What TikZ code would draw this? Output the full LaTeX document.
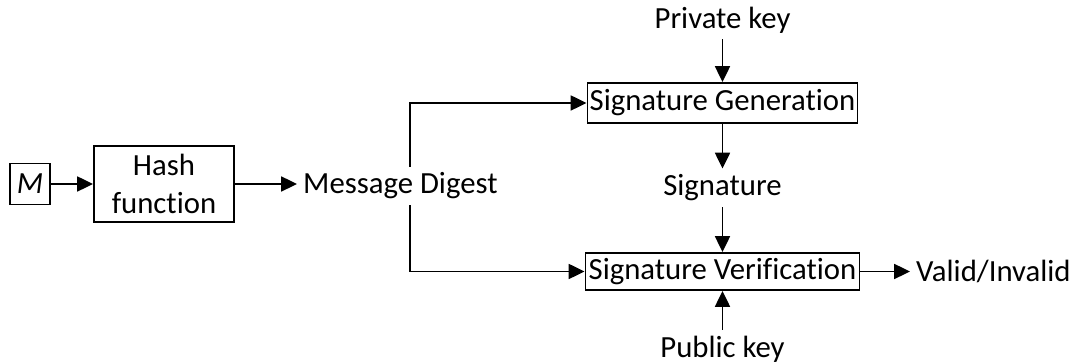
\documentclass[tikz,border=0pt]{standalone}
\usepackage{fontspec}
\setmainfont{Carlito}[Ligatures=NoCommon]
\usetikzlibrary{positioning, arrows.meta, calc}

\begin{document}
\begin{tikzpicture}[blk/.style={draw, line width=1.1pt, inner sep=0pt, align=center, font=\fontsize{17.5}{21.5}\selectfont},txt/.style={font=\fontsize{17.5}{21}\selectfont},flow/.style={line width=1.1pt, -{Triangle[length=9pt, width=8.5pt]}}]
\useasboundingbox (0,0) rectangle (21.5,7.28);
\node[blk, minimum width=0.8cm, minimum height=0.82cm] (msg) at (0.6,3.6) {\textit{M}};
\node[blk, minimum width=2.8cm, minimum height=1.52cm] (hash) at (3.28,3.6) {Hash\\function};
\node[txt, anchor=west] (digest) at (5.94,3.56) {Message Digest};
\coordinate (split) at (8.2,3.6);
\node[blk, minimum width=5.4cm, minimum height=0.8cm] (gen) at (14.45,5.22) {Signature Generation};
\node[blk, minimum width=5.48cm, minimum height=0.74cm] (ver) at (14.45,1.85) {Signature Verification};
\node[txt] (prv) at (14.45,6.88) {Private key};
\node[txt] (sig) at (14.45,3.52) {Signature};
\node[txt] (pub) at (14.45,0.3) {Public key};
\node[txt, anchor=west] (res) at (18.2,1.85) {Valid/Invalid};
\draw[flow] (msg) -- (hash);
\draw[flow] (hash) -- (digest.west |- hash);
\draw[flow] (digest.north -| split) |- (gen);
\draw[flow] (digest.south -| split) |- (ver);
\draw[flow] (prv) -- (gen);
\draw[flow] (gen) -- (sig);
\draw[flow] (sig) -- (ver);
\draw[flow] (pub) -- (ver);
\draw[flow] (ver) -- (res);
\end{tikzpicture}
\end{document}
